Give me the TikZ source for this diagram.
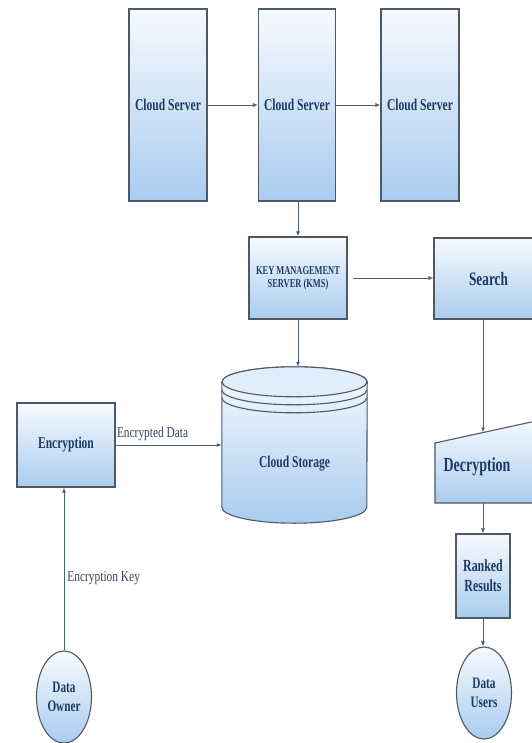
\documentclass[tikz,border=0pt]{standalone}
\usepackage{fontspec}
\usetikzlibrary{arrows.meta,shapes.geometric,calc}
\newfontfamily\diafont{Liberation Serif}[FakeStretch=0.7]
\newfontfamily\tagfont{Liberation Serif}[FakeStretch=0.76]
\definecolor{boxline}{HTML}{4F5966}
\definecolor{topfill}{HTML}{F7FAFE}
\definecolor{botfill}{HTML}{A9CCEF}
\definecolor{txtblue}{HTML}{1D3A63}
\definecolor{arrowline}{HTML}{4A5D7A}
\definecolor{tagcol}{HTML}{33445E}
\begin{document}
\begin{tikzpicture}[x=1pt,y=-1pt,
    btext/.style={text=txtblue, align=center, inner sep=1pt,
      font=\diafont\bfseries\fontsize{16.5}{19}\selectfont},
    block/.style={btext, draw=boxline, line width=1.1pt, top color=topfill, bottom color=botfill},
    blob/.style={block, ellipse, minimum width=55pt, minimum height=92pt, inner sep=0pt},
    flow/.style={draw=arrowline, line width=0.9pt, -{Latex[length=5pt,width=4pt]}},
    tag/.style={font=\tagfont\fontsize{15}{17}\selectfont, text=tagcol, inner sep=1pt}]
\useasboundingbox (0,0) rectangle (531,743);

% three servers on top
\node[block, minimum width=78pt, minimum height=192pt] (cs1) at (168,105) {Cloud Server};
\node[block, minimum width=77pt, minimum height=192pt] (cs2) at (297,105) {Cloud Server};
\node[block, minimum width=78pt, minimum height=192pt] (cs3) at (420,105) {Cloud Server};

\node[block, minimum width=98pt, minimum height=82pt, font=\diafont\bfseries\fontsize{12}{13}\selectfont]
  (kms) at (298,278) {KEY MANAGEMENT\\SERVER (KMS)};
\node[block, minimum width=120pt, minimum height=81pt, font=\diafont\bfseries\fontsize{19}{21}\selectfont]
  (search) at (494,278.5) {\hspace*{-11pt}Search};

% cloud storage drum (frame node + drawn outline)
\node[minimum width=145pt, minimum height=156pt, inner sep=0pt] (storage) at (294.5,445) {};
\draw[draw=boxline, line width=1.1pt, top color=topfill, bottom color=botfill]
  ([yshift=-15pt]storage.north west) -- ([yshift=16pt]storage.south west)
  arc[start angle=180, end angle=360, x radius=72.5pt, y radius=16pt]
  -- ([yshift=-15pt]storage.north east)
  arc[start angle=0, end angle=180, x radius=72.5pt, y radius=15pt] -- cycle;
\draw[draw=boxline, line width=1.1pt, fill=topfill!70!botfill]
  ([yshift=-15pt]storage.north) ellipse[x radius=72.5pt, y radius=15pt];
\foreach \d in {23,31} % rings under the lid
  \draw[draw=boxline, line width=1.1pt] ([yshift=-\d pt]storage.north west)
    arc[start angle=180, end angle=360, x radius=72.5pt, y radius=15pt];
\node[btext] (stlabel) at ([yshift=-19pt]storage.center) {Cloud Storage};

\node[block, minimum width=98pt, minimum height=84pt] (enc) at (66,445) {Encryption};

% decryption (slanted top)
\draw[draw=boxline, line width=1.1pt, top color=topfill, bottom color=botfill]
  (435,443) -- (545,419) -- (545,503) -- (435,503) -- cycle;
\node[btext, font=\diafont\bfseries\fontsize{20}{22}\selectfont] (dec) at (477,467) {Decryption};
\coordinate (dectop) at (483,432.5);
\coordinate (decbot) at (483,503);

\node[block, minimum width=54pt, minimum height=84pt, font=\diafont\bfseries\fontsize{17}{20}\selectfont]
  (ranked) at (483,576) {Ranked\\Results};
\node[blob, font=\diafont\bfseries\fontsize{16}{19}\selectfont] (users) at (484,693) {Data\\Users};
\node[blob, font=\diafont\bfseries\fontsize{16}{19}\selectfont] (owner) at (64,697) {Data\\Owner};

% connectors
\draw[flow] (cs1) -- (cs2);
\draw[flow] (cs2) -- (cs3);
\draw[flow] (kms.north |- cs2.south) -- (kms.north);
\draw[flow, shorten <=5pt] (kms) -- (kms -| search.west);
\draw[flow] (kms.south) -- (kms.south |- storage.north);
\draw[flow] (dectop |- search.south) -- (dectop);
\draw[flow] (decbot) -- (ranked.north);
\draw[flow] (ranked.south) -- (ranked.south |- users.north);
\draw[flow] (enc.east) -- node[tag, anchor=south west, pos=0, yshift=3pt] {Encrypted Data} (enc.east -| storage.west);
\draw[flow] (owner.north) -- node[tag, anchor=west, pos=0.445, xshift=2pt] {Encryption Key} (enc.south -| owner.north);
\end{tikzpicture}
\end{document}
